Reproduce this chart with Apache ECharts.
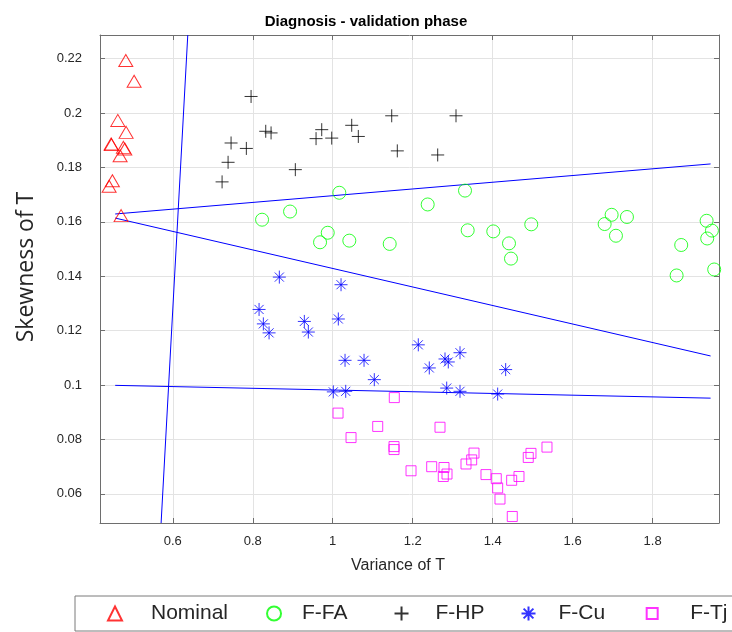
<!DOCTYPE html>
<html>
<head>
<meta charset="utf-8">
<script src="https://cdn.jsdelivr.net/npm/echarts@6/dist/echarts.min.js"></script>
<style>
  html, body { margin: 0; padding: 0; background: #fff; }
  #chart { width: 732px; height: 632px; }
</style>
</head>
<body>
<div id="chart"></div>
<script>
// Feature values per class: variance and skewness of T
const nominalVar  = [0.4825, 0.5033, 0.4625, 0.4833, 0.4458, 0.4467, 0.4765, 0.4800, 0.4683, 0.4490, 0.4408, 0.4708];
const nominalSkew = [0.2193, 0.2117, 0.1973, 0.1929, 0.1886, 0.1884, 0.1874, 0.1868, 0.1843, 0.1751, 0.1731, 0.1623];

const ffaVar  = [0.8233, 0.8933, 0.9683, 0.9875, 1.0165, 1.0415, 1.1425, 1.2375, 1.3308, 1.3375, 1.4015, 1.4408,
                 1.4458, 1.4965, 1.6800, 1.6975, 1.7358, 1.7083, 1.8715, 1.8600, 1.9350, 1.9483, 1.9365, 1.9540];
const ffaSkew = [0.1608, 0.1638, 0.1525, 0.1560, 0.1707, 0.1531, 0.1519, 0.1664, 0.1715, 0.1569, 0.1565, 0.1521,
                 0.1465, 0.1591, 0.1592, 0.1626, 0.1618, 0.1549, 0.1515, 0.1403, 0.1604, 0.1568, 0.1539, 0.1425];

const fhpVar  = [0.7958, 0.7458, 0.7383, 0.7840, 0.7233, 0.8325, 0.8458, 0.9725, 0.9583, 0.9975, 1.0475, 1.0640,
                 0.9065, 1.1475, 1.1615, 1.3083, 1.2625];
const fhpSkew = [0.2061, 0.1890, 0.1819, 0.1870, 0.1747, 0.1933, 0.1927, 0.1939, 0.1906, 0.1908, 0.1955, 0.1914,
                 0.1792, 0.1990, 0.1861, 0.1990, 0.1846];

const fcuVar  = [0.8665, 1.0208, 0.8158, 0.8265, 0.8408, 0.9290, 0.9390, 1.0140, 1.2140, 1.2415, 1.0308, 1.0783,
                 1.1040, 1.2808, 1.2890, 1.3183, 1.0015, 1.0325, 1.2850, 1.3183, 1.4125, 1.4325];
const fcuSkew = [0.1397, 0.1369, 0.1278, 0.1225, 0.1192, 0.1234, 0.1195, 0.1243, 0.1148, 0.1063, 0.1091, 0.1091,
                 0.1020, 0.1096, 0.1085, 0.1119, 0.0975, 0.0977, 0.0989, 0.0977, 0.0967, 0.1057];

const ftjVar  = [1.1540, 1.0133, 1.1125, 1.0458, 1.2683, 1.1533, 1.1533, 1.1958, 1.2475, 1.2783, 1.2765, 1.2858,
                 1.3333, 1.3475, 1.3533, 1.3833, 1.4090, 1.4125, 1.4183, 1.4490, 1.4475, 1.4658, 1.4890, 1.4958, 1.5358];
const ftjSkew = [0.0954, 0.0897, 0.0848, 0.0807, 0.0845, 0.0774, 0.0763, 0.0685, 0.0700, 0.0697, 0.0664, 0.0673,
                 0.0710, 0.0725, 0.0750, 0.0671, 0.0656, 0.0622, 0.0581, 0.0517, 0.0650, 0.0664, 0.0734, 0.0749, 0.0772];

// Decision boundaries (end points)
const boundaryA = { x: [0.6375, 0.5708], y: [0.2287, 0.0493] };
const boundaryB = { x: [0.456, 1.945], y: [0.1629, 0.1813] };
const boundaryC = { x: [0.456, 1.945], y: [0.1614, 0.1107] };
const boundaryD = { x: [0.456, 1.945], y: [0.0999, 0.0952] };

// Axis ranges and ticks
const xRange = [0.418, 1.966];
const yRange = [0.0493, 0.2287];
const xTicks = [0.6, 0.8, 1, 1.2, 1.4, 1.6, 1.8];
const yTicks = [0.06, 0.08, 0.1, 0.12, 0.14, 0.16, 0.18, 0.2, 0.22];

const classNames = ['Nominal', 'F-FA', 'F-HP', 'F-Cu', 'F-Tj'];

const zip = (xs, ys) => xs.map((x, i) => [x, ys[i]]);

const PLUS = 'path://M0,5L10,5M5,0L5,10';
const STAR = 'path://M5,0L5,10M0,5L10,5M1.5,1.5L8.5,8.5M1.5,8.5L8.5,1.5';
// square with an empty margin so the legend icon stays smaller than its box
const SQUARE_ICON = 'path://M0,0M14,14M1.5,1.5L12.5,1.5L12.5,12.5L1.5,12.5Z';

const FONT = '"Liberation Sans", Arial, sans-serif';
const AXIS_COLOR = '#6e6e6e';
const TEXT_COLOR = '#262626';

function hollow(color) {
  return { color: 'rgba(0,0,0,0)', borderColor: color, borderWidth: 1 };
}

function boundary(b) {
  return {
    type: 'line',
    data: zip(b.x, b.y),
    symbol: 'none',
    lineStyle: { color: '#0000ff', width: 1 },
    silent: true,
    z: 3
  };
}

// legend entry: text padding sets the spacing of icon, label and next entry
function legendEntry(name, padLeft, padRight, icon) {
  const e = { name: name, textStyle: { padding: [0, padRight, 0, padLeft] } };
  if (icon) e.icon = icon;
  return e;
}

const chart = echarts.init(document.getElementById('chart'), null, { renderer: 'canvas' });

chart.setOption({
  animation: false,
  backgroundColor: '#ffffff',
  title: {
    text: 'Diagnosis - validation phase',
    left: 'center',
    top: 9,
    textStyle: { fontFamily: FONT, fontWeight: 'bold', fontSize: 15, color: '#000' }
  },
  grid: { left: 100, right: 13, top: 35, bottom: 109, containLabel: false },
  xAxis: [{
    type: 'value',
    min: xRange[0], max: xRange[1],
    splitNumber: 8,
    name: 'Variance of T',
    nameLocation: 'middle',
    nameGap: 35,
    nameTextStyle: { fontFamily: FONT, fontSize: 16, color: TEXT_COLOR, padding: [0, 23, 0, 0] },
    axisLine: { show: true, lineStyle: { color: AXIS_COLOR, width: 1 } },
    axisTick: { show: true, inside: true, length: 5, customValues: xTicks, lineStyle: { color: AXIS_COLOR } },
    axisLabel: { customValues: xTicks, margin: 12, fontFamily: FONT, fontSize: 13, color: TEXT_COLOR },
    splitLine: { show: true, lineStyle: { color: '#e3e3e3', width: 1 } }
  }, {
    type: 'value',
    position: 'top',
    min: xRange[0], max: xRange[1],
    splitNumber: 8,
    axisLine: { show: true, lineStyle: { color: AXIS_COLOR, width: 1 } },
    axisTick: { show: true, inside: true, length: 5, customValues: xTicks, lineStyle: { color: AXIS_COLOR } },
    axisLabel: { show: false },
    splitLine: { show: false }
  }],
  yAxis: [{
    type: 'value',
    min: yRange[0], max: yRange[1],
    splitNumber: 9,
    name: 'Skewness of T',
    nameLocation: 'middle',
    nameGap: 62,
    nameTextStyle: { fontFamily: '"Open Sans", sans-serif', fontSize: 23, color: TEXT_COLOR, padding: [0, 0, 0, 24] },
    axisLine: { show: true, lineStyle: { color: AXIS_COLOR, width: 1 } },
    axisTick: { show: true, inside: true, length: 5, customValues: yTicks, lineStyle: { color: AXIS_COLOR } },
    axisLabel: { customValues: yTicks, margin: 18, fontFamily: FONT, fontSize: 13, color: TEXT_COLOR },
    splitLine: { show: true, lineStyle: { color: '#e3e3e3', width: 1 } }
  }, {
    type: 'value',
    position: 'right',
    min: yRange[0], max: yRange[1],
    splitNumber: 9,
    axisLine: { show: true, lineStyle: { color: AXIS_COLOR, width: 1 } },
    axisTick: { show: true, inside: true, length: 5, customValues: yTicks, lineStyle: { color: AXIS_COLOR } },
    axisLabel: { show: false },
    splitLine: { show: false }
  }],
  legend: {
    data: [
      legendEntry(classNames[0], 24, 38),
      legendEntry(classNames[1], 16, 46),
      legendEntry(classNames[2], 22, 36),
      legendEntry(classNames[3], 18, 39),
      legendEntry(classNames[4], 26, 0, SQUARE_ICON)
    ],
    orient: 'horizontal',
    left: 75,
    top: 596,
    width: 760,
    padding: [7, 60, 7, 32],
    itemWidth: 14,
    itemHeight: 14,
    itemGap: 0,
    borderColor: '#7a7a7a',
    borderWidth: 1,
    selectedMode: false,
    textStyle: { fontFamily: FONT, fontSize: 21, lineHeight: 21, color: TEXT_COLOR }
  },
  series: [
    {
      name: 'Nominal', type: 'scatter', data: zip(nominalVar, nominalSkew),
      symbol: 'triangle', symbolSize: [14, 12], itemStyle: hollow('#ff0000'), z: 4
    },
    {
      name: 'F-FA', type: 'scatter', data: zip(ffaVar, ffaSkew),
      symbol: 'circle', symbolSize: 13, itemStyle: hollow('#00ff00'), z: 4
    },
    {
      name: 'F-HP', type: 'scatter', data: zip(fhpVar, fhpSkew),
      symbol: PLUS, symbolSize: 13, itemStyle: hollow('#000000'), z: 4
    },
    {
      name: 'F-Cu', type: 'scatter', data: zip(fcuVar, fcuSkew),
      symbol: STAR, symbolSize: 13, itemStyle: hollow('#0000ff'), z: 4
    },
    {
      name: 'F-Tj', type: 'scatter', data: zip(ftjVar, ftjSkew),
      symbol: 'rect', symbolSize: 10, itemStyle: hollow('#ff00ff'), z: 4
    },
    boundary(boundaryA),
    boundary(boundaryB),
    boundary(boundaryC),
    boundary(boundaryD)
  ]
});
</script>
</body>
</html>
